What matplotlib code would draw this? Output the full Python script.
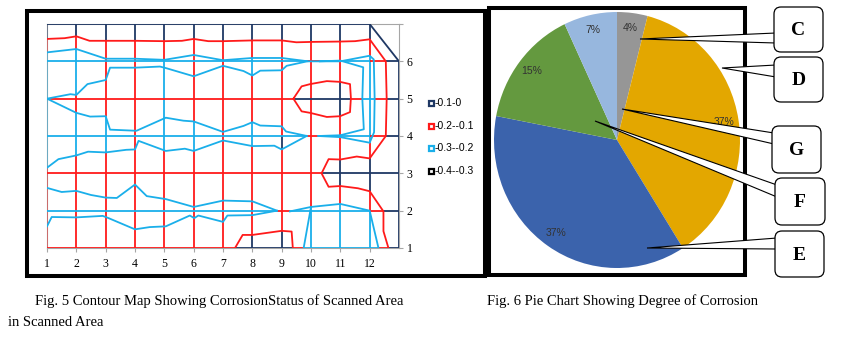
import matplotlib.pyplot as plt
from matplotlib.patches import Rectangle, FancyBboxPatch, Polygon

W, H = 846, 347

# contour bands (legend order) and their colours
band_names = ['-0.1-0', '-0.2--0.1', '-0.3--0.2', '-0.4--0.3']
band_colors = ['#1F3864', '#FF1A1A', '#1AAFEA', '#000000']

x_ticks = list(range(1, 13))
y_ticks = list(range(1, 8))
y_ticklabels = ['1', '2', '3', '4', '5', '6', '']

# wireframe mesh: x -> (break points along y, band of each piece)
v_mesh = {
    1: ([7, 6.6, 6.24, 3.15, 1], [0, 1, 2, 1]),
    2: ([7, 6.68, 6.33, 5.1, 4.62, 3.5, 1], [0, 1, 2, 1, 2, 1]),
    3: ([7, 6.57, 4.53, 3.56, 1], [0, 1, 2, 1]),
    4: ([7, 6.57, 1], [0, 1]),
    5: ([7, 6.56, 6.04, 3.6, 1], [0, 1, 2, 1]),
    6: ([7, 6.6, 4.39, 3.6, 1], [0, 1, 2, 1]),
    7: ([7, 6.55, 1], [0, 1]),
    8: ([7, 6.58, 6.09, 5.62, 4.37, 3.73, 1.35, 1], [0, 1, 2, 1, 2, 1, 0]),
    9: ([7, 6.58, 4.0, 3.64, 1.46, 1], [0, 1, 0, 1, 0]),
    10: ([7, 6.53, 2.08, 1], [0, 1, 2]),
    11: ([7, 6.55, 5.45, 4.52, 3.37, 2.66, 2.18, 1], [0, 1, 0, 1, 0, 1, 2]),
    12: ([7, 6.6, 6.15, 3.82, 3.4, 2.52, 2.0, 1], [0, 1, 2, 1, 0, 1, 2]),
    13: ([6, 1], [0]),
}
# y -> (break points along x, band of each piece)
h_mesh = {
    7: ([1, 12], [0]),
    6: ([1, 9.87, 10.3, 12, 12.55, 13], [2, 1, 2, 1, 0]),
    5: ([1, 9.4, 11.36, 11.75, 12.17, 12.58, 13], [1, 0, 1, 2, 1, 0]),
    4: ([1, 9.86, 10.25, 12, 12.55, 13], [2, 1, 2, 1, 0]),
    3: ([1, 10.36, 13], [1, 0]),
    2: ([1, 8.84, 9.28, 12, 12.47, 13], [2, 1, 2, 1, 0]),
    1: ([1, 7.41, 9.38, 9.75, 12.3, 12.64, 13], [1, 0, 1, 2, 1, 0]),
}

# contour lines (band index, points)
zero_line = [(12, 7), (13, 6)]
red_outer = [(1, 6.6), (1.6, 6.62), (2, 6.67), (2.45, 6.55), (3, 6.55), (4, 6.55),
             (5, 6.54), (5.6, 6.55), (6, 6.6), (6.5, 6.54), (7, 6.54), (8, 6.56),
             (9, 6.56), (9.5, 6.51), (10, 6.52), (11, 6.53), (11.5, 6.54), (12, 6.59),
             (12.55, 6.0), (12.58, 5.0), (12.55, 4.0), (12, 3.4), (11.56, 3.45),
             (11, 3.37), (10.6, 3.38), (10.36, 3.0), (10.6, 2.64), (11, 2.66),
             (11.6, 2.6), (12, 2.52), (12.47, 1.98), (12.47, 1.45), (12.64, 1.0)]
red_loop = [(9.4, 5.0), (9.68, 5.33), (9.97, 5.39), (10.54, 5.47), (10.99, 5.45),
            (11.33, 5.39), (11.36, 5.02), (11.33, 4.64), (10.99, 4.53), (10.54, 4.51),
            (9.97, 4.62), (9.68, 4.66), (9.4, 5.0)]
red_bottom = [(7.41, 1.0), (7.67, 1.35), (8.0, 1.35), (9.0, 1.46), (9.34, 1.44), (9.38, 1.0)]
blue_top = [(1, 6.24), (2, 6.33), (3, 6.07), (4, 6.07), (5, 6.04), (6, 6.17), (7, 6.03),
            (8, 6.09), (9, 6.09), (9.9, 6.0), (11, 6.0), (12, 6.15), (12.14, 6.05),
            (12.17, 5.0), (12.15, 4.1), (12, 3.82), (11, 3.97), (10.25, 4.0)]
blue_inner = [(10.3, 6.0), (11, 6.02), (11.78, 5.84), (11.75, 5.0), (11.8, 4.18),
              (11, 4.02), (10.25, 4.0)]
blue_mid_up = [(1, 5.0), (1.8, 5.12), (2.0, 5.1), (2.38, 5.39), (3.0, 5.5), (3.15, 5.83),
               (4.0, 5.83), (4.85, 5.86), (5.05, 5.82), (6.0, 5.6), (7.0, 5.88),
               (7.7, 5.74), (8.0, 5.62), (8.27, 5.75), (9.0, 5.76), (9.17, 5.88), (9.87, 6.0)]
blue_mid_low = [(1, 5.0), (2, 4.62), (2.47, 4.52), (3.0, 4.53), (3.15, 4.17), (4.05, 4.14),
                (5.05, 4.49), (5.65, 4.41), (6, 4.39), (7, 4.11), (7.7, 4.27), (8, 4.37),
                (8.27, 4.28), (9, 4.26), (9.15, 4.12), (9.86, 4.0)]
blue_3 = [(1, 3.15), (1.39, 3.38), (2, 3.48), (2.4, 3.58), (3, 3.56), (3.7, 3.63),
          (4.0, 3.64), (4.12, 3.87), (5.05, 3.6), (5.7, 3.66), (6, 3.6), (7, 3.88),
          (8, 3.73), (8.75, 3.74), (9, 3.64), (9.85, 4.0)]
blue_4 = [(1, 2.61), (1.5, 2.5), (2, 2.53), (2.5, 2.42), (3, 2.35), (3.38, 2.34),
          (4.0, 2.7), (4.4, 2.39), (5.05, 2.31), (6.0, 2.1), (7.0, 2.27), (8.0, 2.25),
          (8.84, 2.0)]
blue_5 = [(1, 1.58), (1.16, 1.83), (2, 1.82), (2.9, 1.86), (3.1, 1.8), (4.0, 1.5),
          (4.5, 1.56), (5.05, 1.58), (5.87, 1.87), (6.02, 1.8), (6.16, 1.87),
          (7.0, 1.7), (7.15, 1.87), (8.0, 1.88), (8.84, 2.0)]
blue_6 = [(9.28, 1.98), (10.0, 2.1), (11.0, 2.18), (12.0, 2.0), (12.3, 1.0)]
blue_7 = [(9.75, 1.0), (10.0, 2.1)]

contour_lines = [(0, zero_line), (1, red_outer), (1, red_loop), (1, red_bottom),
                 (2, blue_top), (2, blue_inner), (2, blue_mid_up), (2, blue_mid_low),
                 (2, blue_3), (2, blue_4), (2, blue_5), (2, blue_6), (2, blue_7)]

# pie chart
pie_values = [4, 37, 37, 15, 7]
pie_colors = ['#969696', '#E3A700', '#3B63AC', '#64993F', '#97B7DE']
callout_letters = ['C', 'D', 'G', 'F', 'E']

fig = plt.figure(figsize=(W / 100, H / 100), dpi=100)

# ---- contour map ----
ax = fig.add_axes([47 / W, 1 - 248 / H, 352 / W, 224 / H])
for x, (brk, bands) in v_mesh.items():
    for i, b in enumerate(bands):
        ax.plot([x, x], [brk[i], brk[i + 1]], color=band_colors[b], lw=1.3,
                alpha=0.45 if x == 1 else 1, solid_capstyle='butt', zorder=3)
for y, (brk, bands) in h_mesh.items():
    for i, b in enumerate(bands):
        ax.plot([brk[i], brk[i + 1]], [y, y], color=band_colors[b], lw=1.3,
                solid_capstyle='butt', zorder=3)
for b, pts in contour_lines:
    xs, ys = zip(*pts)
    ax.plot(xs, ys, color=band_colors[b], lw=1.3, zorder=4)

ax.set_xlim(1, 13)
ax.set_ylim(1, 7)
for s in ax.spines.values():
    s.set_color('#A6A6A6')
    s.set_linewidth(0.8)
ax.yaxis.tick_right()
ax.set_xticks(x_ticks)
ax.set_xticklabels([str(v) for v in x_ticks])
ax.set_yticks(y_ticks)
ax.set_yticklabels(y_ticklabels)
ax.tick_params(length=3, color='#A6A6A6', labelsize=8.5, pad=4)
ax.tick_params(axis='y', pad=2.5)
for lab in ax.get_xticklabels() + ax.get_yticklabels():
    lab.set_family('Liberation Serif')

# ---- overlay for frames, legend and callouts (pixel units) ----
ov = fig.add_axes([0, 0, 1, 1], zorder=5)
ov.set_xlim(0, W)
ov.set_ylim(H, 0)
ov.axis('off')

for i, name in enumerate(band_names):
    yy = 103 + i * 22.7
    ov.plot(430.5, yy, marker='s', ms=3.6, mfc='white', mec=band_colors[i], mew=1.6)
    ov.text(434.8, yy, name, fontsize=7.5, va='center', ha='left', family='Liberation Sans')

ov.add_patch(Rectangle((27, 11), 458, 264.5, fill=False, ec='black', lw=2.9))

# ---- pie chart ----
pax = fig.add_axes([494 / W, 1 - 268 / H, 246 / W, 256 / H])
wedges, texts, autotexts = pax.pie(pie_values, colors=pie_colors, startangle=90,
                                   counterclock=False, autopct='%1.0f%%', pctdistance=0.88,
                                   wedgeprops=dict(linewidth=0))
for t in autotexts:
    t.set_fontsize(7.5)
    t.set_color('#333333')
    t.set_family('Liberation Sans')
pax.set_aspect('auto')
pax.set_xlim(-1, 1)
pax.set_ylim(-1, 1)

ov2 = fig.add_axes([0, 0, 1, 1], zorder=6)
ov2.set_xlim(0, W)
ov2.set_ylim(H, 0)
ov2.axis('off')
ov2.add_patch(Rectangle((489, 7.5), 255.5, 267.5, fill=False, ec='black', lw=2.9))

boxes = [(774, 7, 49, 45), (774, 57, 49, 45), (772, 126, 49, 47), (775, 178, 50, 47), (775, 231, 49, 46)]
apexes = [(640, 39), (722, 68), (622, 109), (595, 121), (647, 248)]
bases = [(33, 43), (65, 77), (133, 144), (185, 197), (238, 249)]
for letter, (bx, by, bw, bh), apex, (b0, b1) in zip(callout_letters, boxes, apexes, bases):
    ov2.add_patch(Polygon([apex, (bx + 2, b0), (bx + 2, b1)], closed=True,
                          fc='white', ec='black', lw=0.8))
    ov2.add_patch(FancyBboxPatch((bx, by), bw, bh, boxstyle='round,pad=0,rounding_size=7',
                                 fc='white', ec='black', lw=0.9))
    ov2.text(bx + bw / 2, by + bh / 2 + 1, letter, ha='center', va='center', fontsize=14,
             fontweight='bold', family='Liberation Serif')

# captions
cap = dict(fontsize=10.5, family='Liberation Serif', va='center', ha='left')
fig.text(35 / W, 1 - 301 / H, 'Fig. 5 Contour Map Showing CorrosionStatus of Scanned Area', **cap)
fig.text(8 / W, 1 - 322 / H, 'in Scanned Area', **cap)
fig.text(487 / W, 1 - 301 / H, 'Fig. 6 Pie Chart Showing Degree of Corrosion', **cap)

fig.savefig('out.png', dpi=100)
